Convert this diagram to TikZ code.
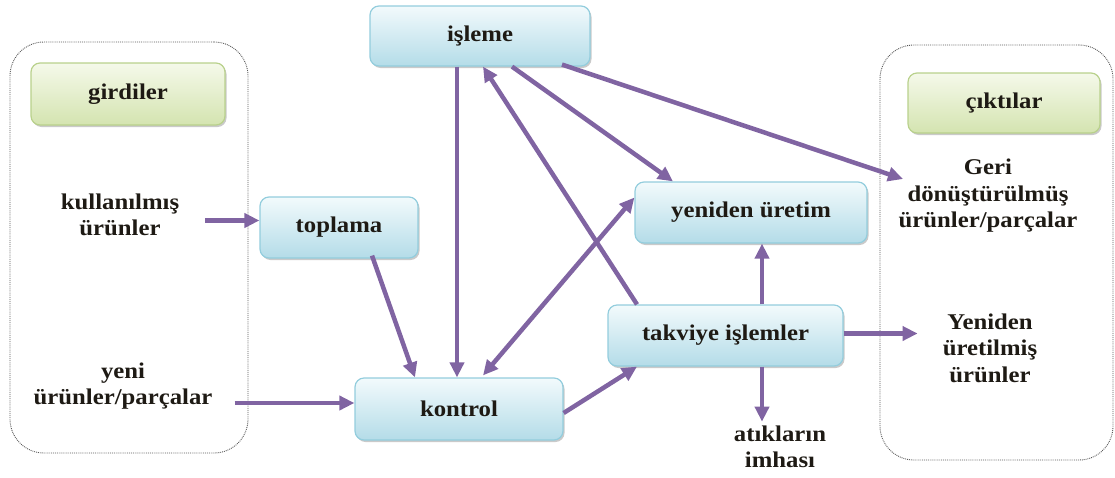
\documentclass[tikz,border=0pt]{standalone}
\usepackage{fontspec}
\setmainfont{Liberation Serif}[BoldFont={Liberation Serif Bold}, FakeStretch=1.1]
\usetikzlibrary{arrows.meta,shadows}
\definecolor{arrowpurple}{HTML}{8064A2}
\definecolor{bluetop}{HTML}{F2FAFC}
\definecolor{bluebot}{HTML}{B4DCE8}
\definecolor{blueline}{HTML}{93CDDD}
\definecolor{greentop}{HTML}{F5F9EA}
\definecolor{greenbot}{HTML}{D4E4B0}
\definecolor{greenline}{HTML}{B9D18C}
\definecolor{textdark}{HTML}{1E1A14}
\begin{document}
\begin{tikzpicture}[x=1pt,y=-1pt,
  every node/.style={font=\fontsize{22.5}{26.5}\selectfont\bfseries, text=textdark},
  bluebox/.style={draw=blueline, line width=1.2pt, rounded corners=9pt,
    top color=bluetop, bottom color=bluebot,
    drop shadow={shadow xshift=1.5pt, shadow yshift=-2pt, fill=black!35, opacity=0.6},
    inner sep=0pt},
  greenbox/.style={draw=greenline, line width=1.2pt, rounded corners=9pt,
    top color=greentop, bottom color=greenbot,
    drop shadow={shadow xshift=1.5pt, shadow yshift=-2pt, fill=black!35, opacity=0.6},
    inner sep=0pt},
  plaintext/.style={align=center, inner sep=0pt},
  container/.style={draw=black!65, densely dotted, line width=0.9pt, rounded corners=34pt, inner sep=0pt},
  flow/.style={draw=arrowpurple, line width=4.5pt, -{Triangle[length=15pt,width=14pt]}},
  flowboth/.style={draw=arrowpurple, line width=4.5pt, {Triangle[length=15pt,width=14pt]}-{Triangle[length=15pt,width=14pt]}}
]
\useasboundingbox (0,0) rectangle (1115,477);

% containers
\node[container, minimum width=238pt, minimum height=411pt] (inputs) at (129,247.5) {};
\node[container, minimum width=233pt, minimum height=415pt] (outputs) at (996.5,252.5) {};

% green title boxes
\node[greenbox, minimum width=194pt, minimum height=62pt] (girdiler) at (128,94) {girdiler};
\node[greenbox, minimum width=192pt, minimum height=60pt] (ciktilar) at (1004,103) {çıktılar};

% blue process boxes
\node[bluebox, minimum width=220pt, minimum height=60pt] (isleme) at (480,36) {işleme};
\node[bluebox, minimum width=158pt, minimum height=61pt] (toplama) at (339,227.5) {toplama};
\node[bluebox, minimum width=208pt, minimum height=62pt] (kontrol) at (459,409) {kontrol};
\node[bluebox, minimum width=232pt, minimum height=61pt] (yeniden) at (751,212.5) {yeniden üretim};
\node[bluebox, minimum width=235pt, minimum height=61pt] (takviye) at (725.5,335.5) {takviye işlemler};

% plain texts
\node[plaintext] (kul) at (120,215) {kullanılmış\\ürünler};
\node[plaintext] (yeni) at (123,386) {yeni\\ürünler/parçalar};
\node[plaintext] (geri) at (988,196) {Geri\\dönüştürülmüş\\ürünler/parçalar};
\node[plaintext] (yen2) at (990,348) {Yeniden\\üretilmiş\\ürünler};
\node[plaintext] (atik) at (780,447) {atıkların\\imhası};

% arrow end points on box sides
\coordinate (topin) at ([yshift=7pt]toplama.west);
\coordinate (konin) at ([yshift=6pt]kontrol.west);

% connectors
\draw[flow] ([xshift=26pt]kul.east |- topin) -- (topin);
\draw[flow] ([xshift=22pt]yeni.east |- konin) -- (konin);
\draw[flow] ([xshift=-23pt]isleme.south) -- ([xshift=-2pt]kontrol.north);
\draw[flow] ([xshift=-88.5pt]takviye.north) -- ([xshift=3pt]isleme.south);
\draw[flow] ([xshift=32pt]isleme.south) -- ([xshift=-78pt]yeniden.north);
\draw[flow] ([xshift=82pt,yshift=2pt]isleme.south) -- ([shift={(-85,-17)}]geri.center);
\draw[flow] ([xshift=33pt,yshift=3pt]toplama.south) -- ([xshift=-44pt]kontrol.north);
\draw[flowboth] ([xshift=24pt,yshift=2pt]kontrol.north) -- ([yshift=15pt]yeniden.west);
\draw[flow] ([yshift=-4pt]kontrol.east) -- ([xshift=-88.5pt]takviye.south);
\draw[flow] ([xshift=36.5pt]takviye.north) -- ([xshift=11pt]yeniden.south);
\draw[flow] ([xshift=36.5pt]takviye.south) -- ([xshift=-18pt,yshift=4pt]atik.north);
\draw[flow] ([yshift=2pt]takviye.east) -- ([xshift=74pt,yshift=2pt]takviye.east);
\end{tikzpicture}
\end{document}
